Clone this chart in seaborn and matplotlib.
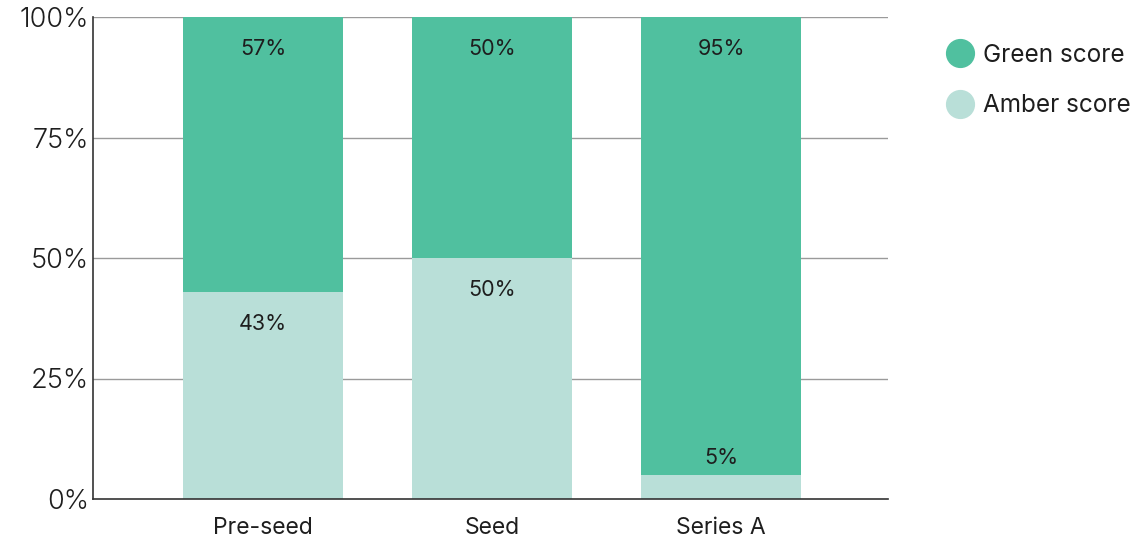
import matplotlib
matplotlib.use("Agg")
import matplotlib.pyplot as plt
import seaborn as sns
import pandas as pd
from matplotlib.lines import Line2D

stages = ["Pre-seed", "Seed", "Series A"]
green_score = [57, 50, 95]
amber_score = [43, 50, 5]
y_ticks = [0, 25, 50, 75, 100]
y_tick_labels = ["0%", "25%", "50%", "75%", "100%"]

GREEN = "#50C09F"
AMBER = "#B9DFD8"
INK = "#1e1e1e"

sns.set_theme(style="white")
plt.rcParams["font.family"] = ["Inter", "DejaVu Sans"]

df = pd.DataFrame({"stage": stages, "green": green_score, "amber": amber_score})
df["total"] = df["green"] + df["amber"]

fig = plt.figure(figsize=(11.34, 5.42), dpi=100)
ax = fig.add_axes([93 / 1134, 43 / 542, 795 / 1134, 482 / 542])

# stacked bars: full height in green, amber portion drawn over the base
sns.barplot(data=df, x="stage", y="total", color=GREEN, width=0.70,
            saturation=1, linewidth=0, ax=ax, zorder=3)
sns.barplot(data=df, x="stage", y="amber", color=AMBER, width=0.70,
            saturation=1, linewidth=0, ax=ax, zorder=4)

ax.set_xlim(-0.742, 2.729)
ax.set_ylim(0, 100)
ax.set_yticks(y_ticks)
ax.set_yticklabels(y_tick_labels)
ax.set_xlabel("")
ax.set_ylabel("")
ax.tick_params(axis="y", labelsize=19.5, length=0, pad=3, labelcolor=INK)
ax.tick_params(axis="x", labelsize=16.5, length=0, pad=13, labelcolor=INK)
for lbl in ax.get_yticklabels():
    lbl.set_fontweight(300)

for y in y_ticks[1:]:
    ax.axhline(y, color="#9a9a9a", lw=1, zorder=1)

for side in ["top", "right"]:
    ax.spines[side].set_visible(False)
for side in ["left", "bottom"]:
    ax.spines[side].set_color("#333333")
    ax.spines[side].set_linewidth(1.2)
    ax.spines[side].set_zorder(5)

px = 100 / 482  # data units per pixel
for i, (g, a) in enumerate(zip(green_score, amber_score)):
    ax.text(i, a + g - 32 * px, f"{g}%", ha="center", va="center",
            fontsize=15.5, color=INK, zorder=6)
    if a >= 15:
        ax.text(i, a - 32 * px, f"{a}%", ha="center", va="center",
                fontsize=15.5, color=INK, zorder=6)
    else:
        ax.text(i, a + 17 * px, f"{a}%", ha="center", va="center",
                fontsize=15.5, color=INK, zorder=6)

handles = [
    Line2D([], [], marker="o", linestyle="", markersize=20,
           markerfacecolor=GREEN, markeredgecolor=GREEN, label="Green score"),
    Line2D([], [], marker="o", linestyle="", markersize=20,
           markerfacecolor=AMBER, markeredgecolor=AMBER, label="Amber score"),
]
fig.legend(handles=handles, loc="upper left", bbox_to_anchor=(925 / 1134, 1 - 22 / 542),
           frameon=False, fontsize=17.5, handletextpad=0.4, labelspacing=1.12,
           handlelength=1.1, labelcolor=INK)

fig.savefig("out.png", dpi=100)
